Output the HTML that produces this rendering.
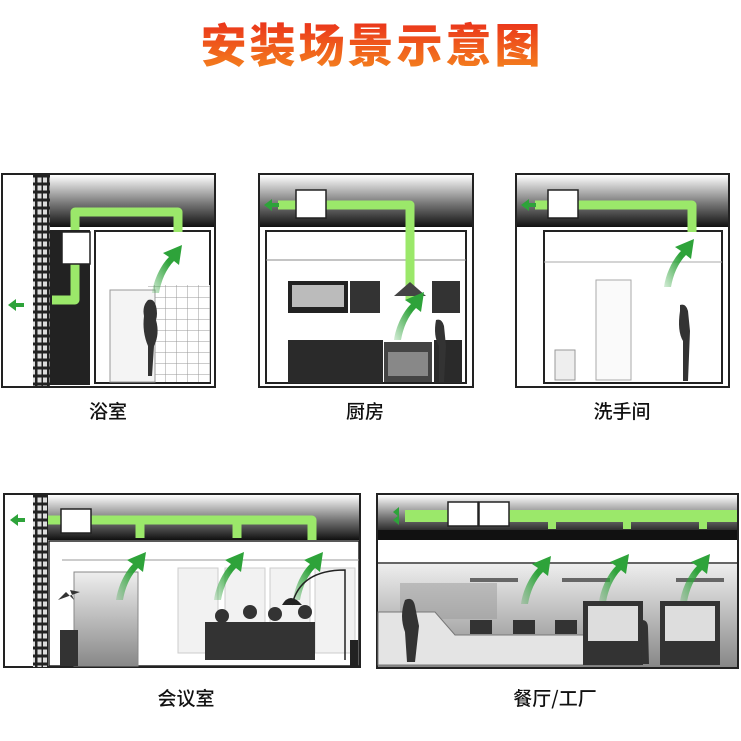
<!DOCTYPE html>
<html><head><meta charset="utf-8"><style>
html,body{margin:0;padding:0;background:#fff;width:741px;height:741px;overflow:hidden}
</style></head><body>
<svg width="741" height="741" viewBox="0 0 741 741" xmlns="http://www.w3.org/2000/svg">
<defs>
<linearGradient id="tg" x1="0" y1="0" x2="0" y2="1"><stop offset="0" stop-color="#e8221a"/><stop offset="1" stop-color="#f58a1e"/></linearGradient>
<linearGradient id="ceil" x1="0" y1="0" x2="0" y2="1"><stop offset="0" stop-color="#fff"/><stop offset="0.55" stop-color="#777"/><stop offset="1" stop-color="#111"/></linearGradient>
<linearGradient id="floor" x1="0" y1="0" x2="0" y2="1"><stop offset="0" stop-color="#eee"/><stop offset="1" stop-color="#888"/></linearGradient>
<linearGradient id="ag" x1="0" y1="1" x2="1" y2="0"><stop offset="0" stop-color="#2ea33a" stop-opacity="0.2"/><stop offset="0.6" stop-color="#2ea33a"/></linearGradient>
<pattern id="brick" width="12" height="8" patternUnits="userSpaceOnUse"><rect width="12" height="8" fill="#222"/><rect x="1.5" y="1.5" width="4" height="5" fill="#ddd"/><rect x="7" y="1.5" width="4" height="5" fill="#ddd"/></pattern>
<pattern id="tile" width="11" height="11" patternUnits="userSpaceOnUse"><rect width="11" height="11" fill="#fff"/><path d="M0 0H11M0 0V11" stroke="#999" stroke-width="1"/></pattern>
<g id="arrow"><path d="M0 0 C2 -14 9 -28 17 -36 L11 -40 L30 -48 L27 -28 L22 -32 C14 -24 9 -12 7 0 Z" fill="url(#ag)"/></g>
</defs>

<text x="372" y="62" text-anchor="middle" font-family="'Noto Sans CJK SC','WenQuanYi Zen Hei',sans-serif" font-weight="900" font-size="46" letter-spacing="3" fill="url(#tg)">安装场景示意图</text>

<!-- Panel 1 -->
<g>
<rect x="2" y="174" width="213" height="213" fill="#fff" stroke="#222" stroke-width="2"/>
<rect x="50" y="175" width="164" height="52" fill="url(#ceil)"/>
<rect x="33" y="175" width="17" height="211" fill="url(#brick)"/>
<rect x="50" y="230" width="40" height="155" fill="#222"/>
<rect x="95" y="231" width="115" height="152" fill="#fff" stroke="#222" stroke-width="2"/>
<rect x="148" y="285" width="62" height="97" fill="url(#tile)"/>
<rect x="110" y="290" width="45" height="92" fill="#f4f4f4" stroke="#999"/>
<path d="M75 230 V212 H178 V232" fill="none" stroke="#9be86a" stroke-width="9" stroke-linejoin="round"/>
<path d="M75 262 V300 H52" fill="none" stroke="#9be86a" stroke-width="9" stroke-linejoin="round"/>
<rect x="62" y="232" width="28" height="32" fill="#fff" stroke="#222" stroke-width="1.5"/>
<path d="M8 305 L16 299 V303 H24 V307 H16 V311 Z" fill="#2ea33a"/>
<use href="#arrow" x="152" y="293"/>
<path d="M148 300 q6 -2 8 6 q2 8 0 14 q4 14 -2 26 l-2 30 h-4 l0 -30 q-6 -14 -4 -30 q-2 -10 4 -16z" fill="#333"/>
</g>
<text x="108" y="418" text-anchor="middle" font-family="'Noto Sans CJK SC',sans-serif" font-size="19" font-weight="500" fill="#111">浴室</text>

<!-- Panel 2 -->
<g>
<rect x="259" y="174" width="214" height="213" fill="#fff" stroke="#222" stroke-width="2"/>
<rect x="260" y="175" width="212" height="52" fill="url(#ceil)"/>
<rect x="266" y="231" width="200" height="152" fill="#fff" stroke="#222" stroke-width="2"/>
<line x1="266" y1="260" x2="466" y2="260" stroke="#888"/>
<path d="M278 205 H410 V300" fill="none" stroke="#9be86a" stroke-width="9" stroke-linejoin="round"/>
<rect x="296" y="190" width="30" height="28" fill="#fff" stroke="#222" stroke-width="1.5"/>
<path d="M264 205 L272 199 V203 H279 V207 H272 V211 Z" fill="#2ea33a"/>
<rect x="288" y="281" width="60" height="32" fill="#222"/><rect x="292" y="285" width="52" height="22" fill="#bbb"/>
<rect x="350" y="281" width="30" height="32" fill="#333"/>
<rect x="432" y="281" width="28" height="32" fill="#333"/>
<rect x="288" y="340" width="95" height="43" fill="#2a2a2a"/>
<rect x="384" y="342" width="48" height="40" fill="#444"/><rect x="388" y="352" width="40" height="24" fill="#888"/>
<rect x="434" y="340" width="28" height="43" fill="#2a2a2a"/>
<path d="M394 296 L410 282 L426 296 Z" fill="#444"/>
<use href="#arrow" x="394" y="340"/>
<path d="M436 320 q6 -2 8 6 l2 20 l-2 36 h-5 l0 -36 q-6 -10 -3 -26z" fill="#333"/>
</g>
<text x="365" y="418" text-anchor="middle" font-family="'Noto Sans CJK SC',sans-serif" font-size="19" font-weight="500" fill="#111">厨房</text>

<!-- Panel 3 -->
<g>
<rect x="516" y="174" width="213" height="213" fill="#fff" stroke="#222" stroke-width="2"/>
<rect x="517" y="175" width="211" height="52" fill="url(#ceil)"/>
<rect x="544" y="231" width="178" height="152" fill="#fff" stroke="#222" stroke-width="2"/>
<line x1="544" y1="262" x2="722" y2="262" stroke="#aaa"/>
<path d="M535 205 H692 V232" fill="none" stroke="#9be86a" stroke-width="9" stroke-linejoin="round"/>
<rect x="548" y="190" width="30" height="28" fill="#fff" stroke="#222" stroke-width="1.5"/>
<path d="M521 205 L529 199 V203 H536 V207 H529 V211 Z" fill="#2ea33a"/>
<rect x="596" y="280" width="35" height="100" fill="#fafafa" stroke="#aaa"/>
<rect x="555" y="350" width="20" height="30" fill="#eee" stroke="#999"/>
<use href="#arrow" x="664" y="287"/>
<path d="M680 305 q6 -2 8 6 l2 20 l-2 50 h-5 l0 -40 q-6 -10 -3 -30z" fill="#333"/>
</g>
<text x="622" y="418" text-anchor="middle" font-family="'Noto Sans CJK SC',sans-serif" font-size="19" font-weight="500" fill="#111">洗手间</text>

<!-- Panel 4 -->
<g>
<rect x="4" y="494" width="356" height="173" fill="#fff" stroke="#222" stroke-width="2"/>
<rect x="48" y="495" width="311" height="45" fill="url(#ceil)"/>
<rect x="33" y="495" width="15" height="172" fill="url(#brick)"/>
<rect x="49" y="541" width="310" height="125" fill="#fff" stroke="#222" stroke-width="1.5"/>
<line x1="62" y1="560" x2="359" y2="560" stroke="#999"/>
<rect x="74" y="572" width="64" height="94" fill="url(#floor)" stroke="#888"/>
<rect x="178" y="568" width="40" height="85" fill="#f2f2f2" stroke="#ccc"/>
<rect x="225" y="568" width="40" height="85" fill="#f2f2f2" stroke="#ccc"/>
<rect x="270" y="568" width="40" height="85" fill="#f2f2f2" stroke="#ccc"/>
<rect x="315" y="568" width="40" height="85" fill="#f2f2f2" stroke="#ccc"/>
<path d="M48 520 H312 V540 M140 520 V538 M237 520 V538" fill="none" stroke="#9be86a" stroke-width="9" stroke-linejoin="round"/>
<rect x="61" y="509" width="30" height="24" fill="#fff" stroke="#222" stroke-width="1.5"/>
<path d="M10 520 L18 514 V518 H25 V522 H18 V526 Z" fill="#2ea33a"/>
<use href="#arrow" x="116" y="600"/>
<use href="#arrow" x="214" y="600"/>
<use href="#arrow" x="293" y="600"/>
<path d="M292 605 Q300 570 345 570 V660" fill="none" stroke="#222" stroke-width="1.5"/>
<path d="M282 605 q8 -14 20 0z" fill="#222"/>
<rect x="350" y="640" width="8" height="26" fill="#222"/>
<circle cx="222" cy="616" r="7" fill="#333"/><circle cx="250" cy="612" r="7" fill="#333"/><circle cx="275" cy="614" r="7" fill="#333"/><circle cx="305" cy="612" r="7" fill="#333"/>
<path d="M205 622 h110 v38 h-110z" fill="#333"/>
<path d="M58 600 l8 -8 l8 8 l-4 -10 l10 2 z M60 630 h18 v36 h-18z" fill="#333"/>
</g>
<text x="186" y="705" text-anchor="middle" font-family="'Noto Sans CJK SC',sans-serif" font-size="19" font-weight="500" fill="#111">会议室</text>

<!-- Panel 5 -->
<g>
<rect x="377" y="494" width="361" height="174" fill="#fff" stroke="#222" stroke-width="2"/>
<rect x="378" y="495" width="359" height="40" fill="url(#ceil)"/>
<rect x="378" y="530" width="359" height="10" fill="#111"/>
<line x1="378" y1="563" x2="737" y2="563" stroke="#333" stroke-width="1.5"/>
<rect x="378" y="564" width="359" height="103" fill="url(#floor)"/>
<path d="M405 516 H737" stroke="#9be86a" stroke-width="12"/>
<rect x="548" y="521" width="8" height="8" fill="#9be86a"/><rect x="623" y="521" width="8" height="8" fill="#9be86a"/><rect x="699" y="521" width="8" height="8" fill="#9be86a"/>
<rect x="448" y="502" width="30" height="24" fill="#fff" stroke="#222" stroke-width="1.5"/>
<rect x="479" y="502" width="30" height="24" fill="#fff" stroke="#222" stroke-width="1.5"/>
<path d="M393 512 l6 -5 v10z M393 520 l6 -5 v10z" fill="#2ea33a"/>
<rect x="400" y="583" width="97" height="36" fill="#999" opacity="0.5"/>
<rect x="470" y="578" width="48" height="4" fill="#666"/><rect x="562" y="578" width="48" height="4" fill="#666"/><rect x="676" y="578" width="48" height="4" fill="#666"/>
<use href="#arrow" x="521" y="604"/><use href="#arrow" x="599" y="602"/><use href="#arrow" x="680" y="602"/>
<path d="M378 612 H435 L455 635 H640 V665 H378Z" fill="#e4e4e4" stroke="#777"/>
<rect x="583" y="601" width="60" height="64" fill="#333"/><rect x="588" y="606" width="50" height="35" fill="#ddd"/>
<rect x="660" y="601" width="60" height="64" fill="#333"/><rect x="665" y="606" width="50" height="35" fill="#ddd"/>
<rect x="470" y="620" width="22" height="14" fill="#333"/><rect x="513" y="620" width="22" height="14" fill="#333"/><rect x="555" y="620" width="22" height="14" fill="#333"/>
<path d="M405 600 q8 -4 10 6 l4 20 l-4 36 h-8 l-2 -30 q-6 -16 0 -32z" fill="#333"/>
<path d="M642 620 q6 0 6 8 l1 36 h-8z" fill="#333"/>
</g>
<text x="555" y="705" text-anchor="middle" font-family="'Noto Sans CJK SC',sans-serif" font-size="19" font-weight="500" fill="#111">餐厅/工厂</text>
</svg>
</body></html>
